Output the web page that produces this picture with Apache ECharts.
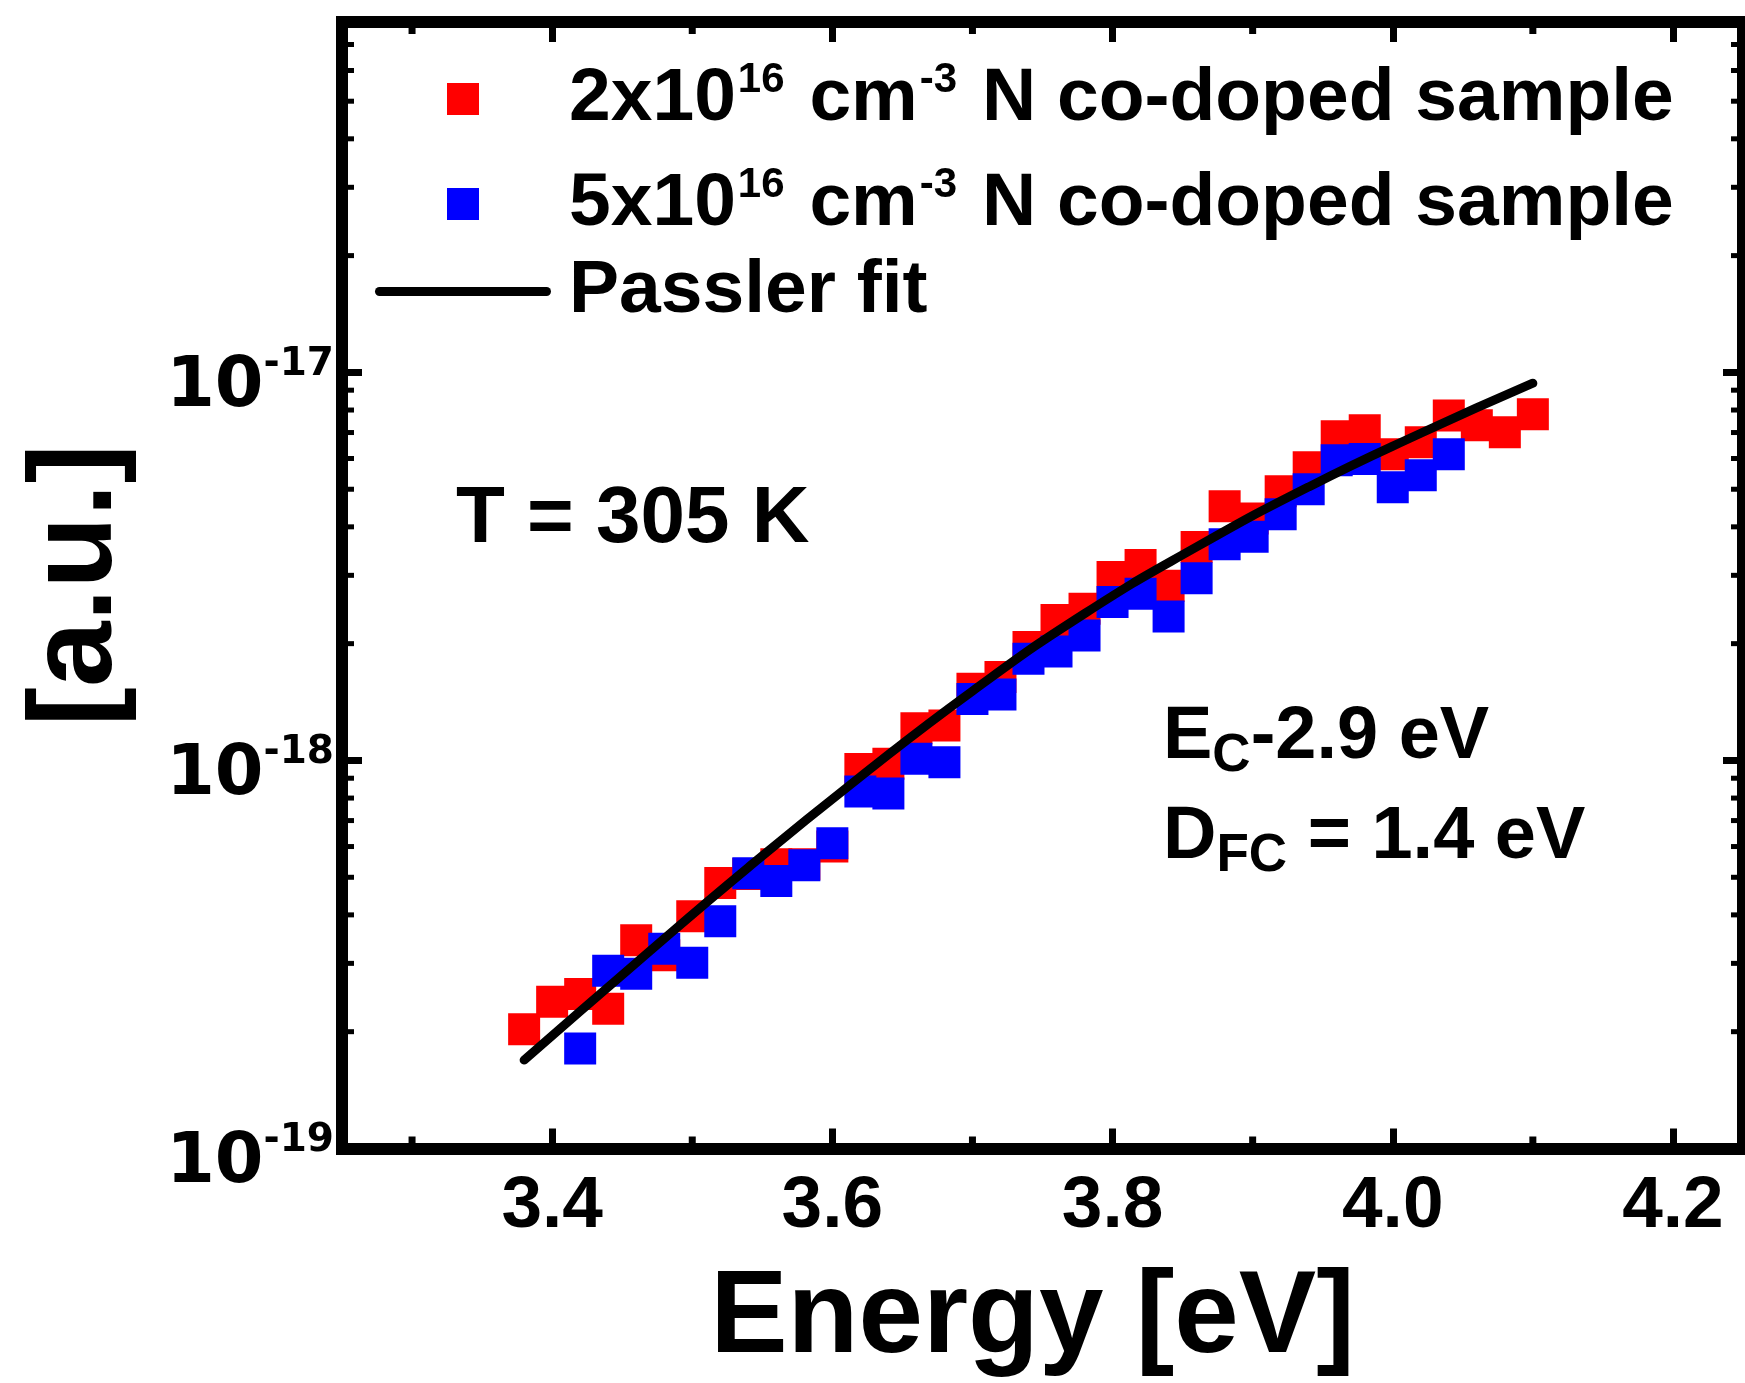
<!DOCTYPE html>
<html>
<head>
<meta charset="utf-8">
<script src="https://cdn.jsdelivr.net/npm/echarts@6/dist/echarts.min.js"></script>
<style>
html, body { margin: 0; padding: 0; background: #fff; }
#main { width: 1745px; height: 1383px; }
</style>
</head>
<body>
<div id="main"></div>
<script>
// ---------------- data ----------------
var redX = [3.38, 3.40, 3.42, 3.44, 3.46, 3.48, 3.50, 3.52, 3.54, 3.56, 3.58, 3.60, 3.62, 3.64, 3.66, 3.68, 3.70, 3.72, 3.74,
            3.76, 3.78, 3.80, 3.82, 3.84, 3.86, 3.88, 3.90, 3.92, 3.94, 3.96, 3.98, 4.00, 4.02, 4.04, 4.06, 4.08, 4.10];
var redY = [2.03e-19, 2.39e-19, 2.50e-19, 2.29e-19, 3.44e-19, 3.15e-19, 3.97e-19, 4.83e-19, 5.10e-19, 5.40e-19, 5.40e-19, 6.00e-19,
            9.50e-19, 9.80e-19, 1.21e-18, 1.23e-18, 1.53e-18, 1.64e-18, 1.96e-18, 2.30e-18, 2.46e-18, 2.97e-18, 3.19e-18,
            2.82e-18, 3.55e-18, 4.52e-18, 4.20e-18, 4.94e-18, 5.70e-18, 6.85e-18, 7.10e-18, 6.15e-18, 6.61e-18, 7.75e-18,
            7.31e-18, 7.01e-18, 7.80e-18];

var blueX = [3.42, 3.44, 3.46, 3.48, 3.50, 3.52, 3.54, 3.56, 3.58, 3.60, 3.62, 3.64, 3.66, 3.68, 3.70, 3.72,
             3.74, 3.76, 3.78, 3.80, 3.82, 3.84, 3.86, 3.88, 3.90, 3.92, 3.94, 3.96, 3.98, 4.00, 4.02, 4.04];
var blueY = [1.81e-19, 2.87e-19, 2.82e-19, 3.27e-19, 3.01e-19, 3.85e-19, 5.12e-19, 4.89e-19, 5.37e-19, 6.12e-19,
             8.32e-19, 8.22e-19, 1.01e-18, 9.90e-19, 1.44e-18, 1.48e-18, 1.83e-18, 1.91e-18, 2.10e-18, 2.56e-18,
             2.69e-18, 2.35e-18, 2.95e-18, 3.61e-18, 3.77e-18, 4.31e-18, 5.00e-18, 5.94e-18, 5.98e-18, 5.06e-18,
             5.43e-18, 6.15e-18];

// Passler fit curve
var fitX = [3.38, 3.46, 3.54, 3.62, 3.70, 3.78, 3.86, 3.94, 4.02, 4.10];
var fitY = [1.69e-19, 3.01e-19, 5.30e-19, 9.08e-19, 1.51e-18, 2.39e-18, 3.55e-18, 5.07e-18, 6.97e-18, 9.38e-18];

// axes
var X_MIN = 3.25, X_MAX = 4.25;
var Y_MIN = 1e-19, Y_MAX = 8e-17;
var xTicks = [3.4, 3.6, 3.8, 4.0, 4.2];
var xMinorTicks = [3.3, 3.5, 3.7, 3.9, 4.1];
var yMinorTicks = [2e-19, 3e-19, 4e-19, 5e-19, 6e-19, 7e-19, 8e-19, 9e-19,
                   2e-18, 3e-18, 4e-18, 5e-18, 6e-18, 7e-18, 8e-18, 9e-18,
                   2e-17, 3e-17, 4e-17, 5e-17, 6e-17, 7e-17];

var seriesNames = ['2x10^16 cm^-3 N co-doped sample', '5x10^16 cm^-3 N co-doped sample', 'Passler fit'];
var legendRich = [
    '{m|2x10}{s|16}{m| cm}{s|-3}{m| N co-doped sample}',
    '{m|5x10}{s|16}{m| cm}{s|-3}{m| N co-doped sample}',
    '{m|Passler fit}'
];

// ---------------- chart ----------------
var FONT = "'Liberation Sans', Arial, Helvetica, sans-serif";
var WIDE_FONT = "'DejaVu Sans', Verdana, sans-serif";
var AXIS_W = 12;
var MINOR_LEN = 12;

function pairs(xs, ys) {
    var out = [];
    for (var i = 0; i < xs.length; i++) out.push([xs[i], ys[i]]);
    return out;
}

var chart = echarts.init(document.getElementById('main'));

var richLegend = {
    m: { fontSize: 75, fontWeight: 'bold', fontFamily: FONT, color: '#000', lineHeight: 80 },
    s: { fontSize: 42, fontWeight: 'bold', fontFamily: FONT, color: '#000', lineHeight: 34, verticalAlign: 'top', padding: [0, 4, 0, 2] }
};

// the square icon keeps its aspect, so the legend box starts at the square
function makeLegend(idx, left, top, icon) {
    return {
        left: left,
        top: top,
        padding: 0,
        itemWidth: 176,
        itemHeight: 32,
        symbolKeepAspect: true,
        selectedMode: false,
        data: [{ name: seriesNames[idx], icon: icon }],
        formatter: function () { return legendRich[idx]; },
        textStyle: { padding: [0, 0, 0, 13], rich: richLegend }
    };
}

var squareIcon = 'path://M0,0H10V10H0Z';
var lineIcon = 'path://M4.5,0H171.5A4.5,4.5 0 0 1 171.5,9H4.5A4.5,4.5 0 0 1 4.5,0Z';

var xAxisBase = {
    type: 'value',
    min: X_MIN,
    max: X_MAX,
    splitLine: { show: false },
    axisLine: { show: true, onZero: false, lineStyle: { color: '#000', width: AXIS_W, cap: 'square' } },
    axisTick: { show: true, inside: true, length: 20, customValues: xTicks, lineStyle: { color: '#000', width: 7 } }
};

var yAxisBase = {
    type: 'log',
    logBase: 10,
    min: Y_MIN,
    max: Y_MAX,
    splitLine: { show: false },
    axisLine: { show: true, onZero: false, lineStyle: { color: '#000', width: AXIS_W, cap: 'square' } },
    axisTick: { show: true, inside: true, length: 20, lineStyle: { color: '#000', width: 7 } },
    minorTick: { show: false }
};

var option = {
    animation: false,
    backgroundColor: '#fff',
    grid: { left: 342, right: 2, top: 22, bottom: 231, containLabel: false },
    legend: [
        makeLegend(0, 447, 59, squareIcon),
        makeLegend(1, 447, 164, squareIcon),
        makeLegend(2, 375, 254, lineIcon)
    ],
    xAxis: [
        echarts.util.merge({
            position: 'bottom',
            axisLabel: {
                customValues: xTicks,
                formatter: function (v) { return v.toFixed(1); },
                fontSize: 73, fontWeight: 'bold', fontFamily: FONT, color: '#000',
                lineHeight: 72, margin: 22
            },
            name: 'Energy [eV]',
            nameLocation: 'middle',
            nameGap: 114,
            nameTextStyle: { fontSize: 116, fontWeight: 'bold', fontFamily: FONT, color: '#000', lineHeight: 115, padding: [0, 20, 0, 0] }
        }, xAxisBase, false),
        echarts.util.merge({
            position: 'top',
            axisLabel: { show: false }
        }, xAxisBase, false)
    ],
    yAxis: [
        echarts.util.merge({
            position: 'left',
            axisLabel: {
                margin: 8,
                showMaxLabel: false,
                padding: [23, 0, 0, 0],
                formatter: function (v) {
                    var e = Math.round(Math.log(v) / Math.LN10);
                    return '{m|10}{s|' + e + '}';
                },
                rich: {
                    m: { fontSize: 70, fontWeight: 'bold', fontFamily: WIDE_FONT, color: '#000', lineHeight: 78, verticalAlign: 'bottom' },
                    s: { fontSize: 39, fontWeight: 'bold', fontFamily: WIDE_FONT, color: '#000', lineHeight: 60, verticalAlign: 'top' }
                }
            },
            name: '[a.u.]',
            nameLocation: 'middle',
            nameRotate: 90,
            nameGap: 205,
            nameTextStyle: { fontSize: 118, fontWeight: 'bold', fontFamily: FONT, color: '#000', lineHeight: 118 }
        }, yAxisBase, false),
        echarts.util.merge({
            position: 'right',
            axisLabel: { show: false }
        }, yAxisBase, false)
    ],
    graphic: [
        {
            type: 'text', left: 456, top: 520 - 40, silent: true,
            style: { text: 'T = 305 K', font: 'bold 80px ' + FONT, fill: '#000' }
        },
        {
            type: 'text', left: 1163, top: 746 - 45, silent: true,
            style: {
                text: '{m|E}{s|C}{m|-2.9 eV}',
                rich: {
                    m: { fontSize: 74, fontWeight: 'bold', fontFamily: FONT, fill: '#000', lineHeight: 90 },
                    s: { fontSize: 53, fontWeight: 'bold', fontFamily: FONT, fill: '#000', lineHeight: 40, verticalAlign: 'bottom' }
                }
            }
        },
        {
            type: 'text', left: 1163, top: 846 - 45, silent: true,
            style: {
                text: '{m|D}{s|FC}{m| = 1.4 eV}',
                rich: {
                    m: { fontSize: 74, fontWeight: 'bold', fontFamily: FONT, fill: '#000', lineHeight: 90 },
                    s: { fontSize: 53, fontWeight: 'bold', fontFamily: FONT, fill: '#000', lineHeight: 40, verticalAlign: 'bottom' }
                }
            }
        }
    ],
    series: [
        {
            // minor ticks of the log axis, left and right
            type: 'custom',
            silent: true,
            clip: false,
            data: yMinorTicks.map(function (v) { return [X_MIN, v]; }),
            renderItem: function (params, api) {
                var v = api.value(1);
                var l = api.coord([X_MIN, v]);
                var r = api.coord([X_MAX, v]);
                var st = { stroke: '#000', lineWidth: 5 };
                return {
                    type: 'group',
                    children: [
                        { type: 'line', shape: { x1: l[0], y1: l[1], x2: l[0] + MINOR_LEN, y2: l[1] }, style: st },
                        { type: 'line', shape: { x1: r[0] - MINOR_LEN, y1: r[1], x2: r[0], y2: r[1] }, style: st }
                    ]
                };
            }
        },
        {
            // minor ticks of the energy axis, bottom and top
            type: 'custom',
            silent: true,
            clip: false,
            data: xMinorTicks.map(function (v) { return [v, Y_MIN]; }),
            renderItem: function (params, api) {
                var v = api.value(0);
                var b = api.coord([v, Y_MIN]);
                var t = api.coord([v, Y_MAX]);
                var st = { stroke: '#000', lineWidth: 7 };
                return {
                    type: 'group',
                    children: [
                        { type: 'line', shape: { x1: b[0], y1: b[1], x2: b[0], y2: b[1] - MINOR_LEN }, style: st },
                        { type: 'line', shape: { x1: t[0], y1: t[1], x2: t[0], y2: t[1] + MINOR_LEN }, style: st }
                    ]
                };
            }
        },
        {
            name: seriesNames[0],
            type: 'scatter',
            symbol: 'rect',
            symbolSize: 32,
            itemStyle: { color: '#ff0000', opacity: 1 },
            data: pairs(redX, redY)
        },
        {
            name: seriesNames[2],
            type: 'line',
            smooth: true,
            showSymbol: false,
            symbol: 'none',
            lineStyle: { color: '#000', width: 9, cap: 'round' },
            itemStyle: { color: '#000' },
            data: pairs(fitX, fitY)
        },
        {
            name: seriesNames[1],
            type: 'scatter',
            symbol: 'rect',
            symbolSize: 32,
            itemStyle: { color: '#0000ff', opacity: 1 },
            data: pairs(blueX, blueY)
        }
    ]
};

chart.setOption(option);
</script>
</body>
</html>
